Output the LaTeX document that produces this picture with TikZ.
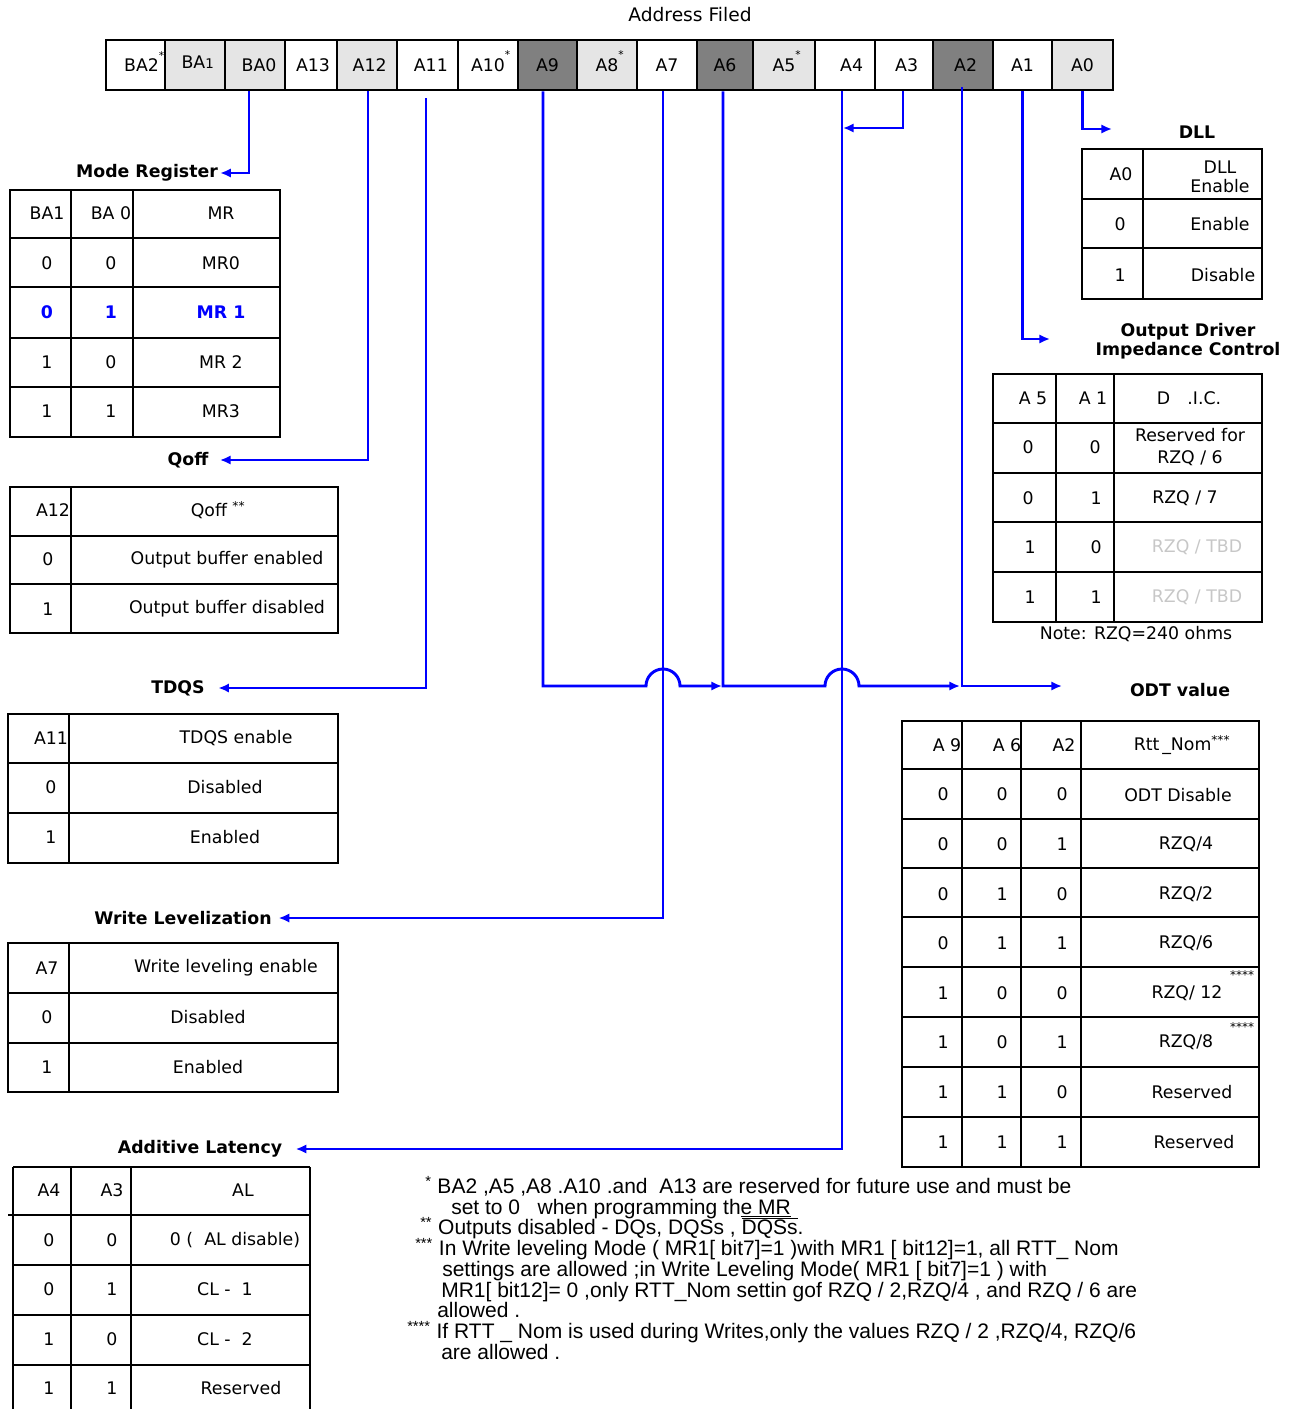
\documentclass[tikz,border=0pt]{standalone}
\usepackage{fontspec}
\setmainfont{DejaVu Sans}
\newfontfamily\notefont{Liberation Sans}
\usetikzlibrary{arrows.meta}
\definecolor{lite}{gray}{0.9}
\definecolor{dark}{gray}{0.5}
\definecolor{faint}{gray}{0.78}
\definecolor{busblue}{rgb}{0,0,1}
\newcommand\rsv{\rlap{\smash{\raisebox{1.3ex}{\fontsize{8}{8}\selectfont *}}}}

\begin{document}
\begin{tikzpicture}[x=0.75pt, y=-0.75pt,
    font=\fontsize{13}{15.6}\selectfont,
    cell/.style={draw, line width=2pt, inner sep=0pt, minimum height=37.5pt},
    tbl/.style={line width=2pt},
    ttl/.style={font=\fontsize{13}{15.6}\selectfont\bfseries, inner sep=1pt},
    bus/.style={draw=busblue, line width=2.2pt, -{Latex[length=8pt,width=7pt]}},
    hl/.style={text=busblue, font=\fontsize{13}{15.6}\selectfont\bfseries},
    rw/.style={},
    greyed/.style={text=faint},
    small/.style={font=\fontsize{9}{9}\selectfont, inner sep=0pt},
    note/.style={font={\notefont\fontsize{15.75}{15.56}\selectfont\lineskiplimit=-20pt}, align=left, anchor=north west, inner sep=0pt}]
\useasboundingbox (0,0) rectangle (1293,1409);
\clip (0,0) rectangle (1293,1409);

\node[font=\fontsize{14}{16}\selectfont] (addr) at (690,15) {Address Filed};
\foreach \n/\t/\xa/\xb/\f in {
    BA2/\hspace{9pt}BA2\rsv/106/165/white,
    BA1/{\hspace{4pt}\raisebox{4pt}{BA\fontsize{10}{10}\selectfont 1}}/165/225/lite,
    BA0/\hspace{6pt}BA0/225/285/lite, A13/\hspace{3pt}A13/285/337/white, A12/\hspace{4pt}A12/337/397/lite,
    A11/\hspace{5pt}A11/397/458/white, A10/A10\rsv/458/518/white, A9/A9/518/577/dark,
    A8/A8\rsv/577/637/lite, A7/A7/637/697/white, A6/A6/697/753/dark,
    A5/A5\rsv/753/815/lite, A4/\hspace{10pt}A4/815/875/white, A3/\hspace{4pt}A3/875/933/white,
    A2/\hspace{4pt}A2/933/993/dark, A1/A1/993/1052/white, A0/A0/1052/1113/lite}
  \node[cell, fill=\f, minimum width={(\xb-\xa)*0.75pt}] (\n) at ({(\xa+\xb)/2},65) {\t};

\node[ttl] (mr) at (147,173) {Mode Register};
\node[ttl] (qoff) at (188,460) {Qoff};
\node[ttl] (tdqs) at (178,688) {TDQS};
\node[ttl] (wl) at (183,918) {Write Levelization};
\node[ttl] (al) at (200,1149) {Additive Latency};
\node[ttl] (dll) at (1197,132) {DLL};
\node[ttl, align=center, font=\fontsize{13}{14.3}\selectfont\bfseries] (odic) at (1188,341) {Output Driver\\Impedance Control};
\node[ttl] (odt) at (1180,690) {ODT value};
\node (rzq) at (1136,634) {Note: RZQ=240 ohms};

\foreach \a/\b/\c/\s [count=\r] in {BA1/BA 0/MR/rw, 0/0/MR0/rw, 0/1/MR 1/hl, 1/0/MR 2/rw, 1/1/MR3/rw} {
  \node[\s] (mr-\r-a) at (47,{164+49.5*\r}) {\a};
  \node[\s] (mr-\r-b) at (111,{164+49.5*\r}) {\b};
  \node[\s] (mr-\r-c) at (221,{164+49.5*\r}) {\c};
}
\draw[tbl] (10,190) rectangle (280,437);
\foreach \x in {71,133} \draw[tbl] (\x,190) -- (\x,437);
\foreach \y in {238,287,338,387} \draw[tbl] (10,\y) -- (280,\y);

\node (qf-h-a) at (53,510) {A12};
\node (qf-h-b) at (218,510) {Qoff \textsuperscript{**}};
\foreach \a/\b [count=\r] in {0/Output buffer enabled, 1/Output buffer disabled} {
  \node (qf-\r-a) at (48,{510+49.5*\r}) {\a};
  \node (qf-\r-b) at (227,{510+49.5*\r}) {\b};
}
\draw[tbl] (10,487) rectangle (338,633);
\draw[tbl] (71,487) -- (71,633);
\foreach \y in {536,584} \draw[tbl] (10,\y) -- (338,\y);

\node (td-h-a) at (51,738) {A11};
\node (td-h-b) at (236,738) {TDQS enable};
\foreach \a/\b [count=\r] in {0/Disabled, 1/Enabled} {
  \node (td-\r-a) at (51,{738+49.5*\r}) {\a};
  \node (td-\r-b) at (225,{738+49.5*\r}) {\b};
}
\draw[tbl] (8,714) rectangle (338,863);
\draw[tbl] (69,714) -- (69,863);
\foreach \y in {763,813} \draw[tbl] (8,\y) -- (338,\y);

\node (wl-h-a) at (47,968) {A7};
\node (wl-h-b) at (226,968) {Write leveling enable};
\foreach \a/\b [count=\r] in {0/Disabled, 1/Enabled} {
  \node (wl-\r-a) at (47,{968+49.5*\r}) {\a};
  \node (wl-\r-b) at (208,{968+49.5*\r}) {\b};
}
\draw[tbl] (8,943) rectangle (338,1092);
\draw[tbl] (69,943) -- (69,1092);
\foreach \y in {993,1043} \draw[tbl] (8,\y) -- (338,\y);

\foreach \a/\b/\c/\xc [count=\r] in {A4/A3/AL/243, 0/0/0 (\ \ AL disable)/235, 0/1/CL -\ \ 1/225, 1/0/CL -\ \ 2/225, 1/1/Reserved/241} {
  \node (al-\r-a) at (49,{1141+49.5*\r}) {\a};
  \node (al-\r-b) at (112,{1141+49.5*\r}) {\b};
  \node (al-\r-c) at (\xc,{1141+49.5*\r}) {\c};
}
\draw[tbl] (13,1167) -- (310,1167);
\foreach \x in {13,71,131,310} \draw[tbl] (\x,1167) -- (\x,1420);
\draw[tbl] (8,1215) -- (310,1215);
\foreach \y in {1265,1315,1365} \draw[tbl] (13,\y) -- (310,\y);

\node (dl-h-a) at (1121,174) {A0};
\node[align=center, font=\fontsize{13}{14}\selectfont] (dl-h-b) at (1220,177) {DLL\\Enable};
\node (dl-1-a) at (1120,224) {0};
\node (dl-1-b) at (1220,224) {Enable};
\node (dl-2-a) at (1120,275) {1};
\node (dl-2-b) at (1223,275) {Disable};
\draw[tbl] (1082,149) rectangle (1262,299);
\draw[tbl] (1143,149) -- (1143,299);
\foreach \y in {199,248} \draw[tbl] (1082,\y) -- (1262,\y);

\node (oc-h-a) at (1033,398) {A 5};
\node (oc-h-b) at (1093,398) {A 1};
\node (oc-h-c) at (1189,398) {D\hspace{1em}.I.C.};
\node (oc-1-a) at (1028,447) {0};
\node (oc-1-b) at (1095,447) {0};
\node[align=center, font=\fontsize{13}{17}\selectfont] (oc-1-c) at (1190,447) {Reserved for\\RZQ / 6};
\node (oc-2-a) at (1028,498) {0};
\node (oc-2-b) at (1096,498) {1};
\node (oc-2-c) at (1185,498) {RZQ / 7};
\node (oc-3-a) at (1030,547) {1};
\node (oc-3-b) at (1096,547) {0};
\node[greyed] (oc-3-c) at (1197,547) {RZQ / TBD};
\node (oc-4-a) at (1030,597) {1};
\node (oc-4-b) at (1096,597) {1};
\node[greyed] (oc-4-c) at (1197,597) {RZQ / TBD};
\draw[tbl] (993,374) rectangle (1262,622);
\foreach \x in {1056,1114} \draw[tbl] (\x,374) -- (\x,622);
\foreach \y in {423,473,522,572} \draw[tbl] (993,\y) -- (1262,\y);

\node (ot-h-a) at (947,745) {A 9};
\node (ot-h-b) at (1007,745) {A 6};
\node (ot-h-c) at (1064,745) {A2};
\node (ot-h-d) at (1182,745) {Rtt\,\_Nom\textsuperscript{***}};
\foreach \a/\b/\c/\d/\xd [count=\r] in {0/0/0/ODT Disable/1178, 0/0/1/{RZQ/4}/1186,
    0/1/0/{RZQ/2}/1186, 0/1/1/{RZQ/6}/1186, 1/0/0/{RZQ/ 12}/1187, 1/0/1/{RZQ/8}/1186,
    1/1/0/Reserved/1192, 1/1/1/Reserved/1194} {
  \node (ot-\r-a) at (943,{745+49.6*\r}) {\a};
  \node (ot-\r-b) at (1002,{745+49.6*\r}) {\b};
  \node (ot-\r-c) at (1062,{745+49.6*\r}) {\c};
  \node (ot-\r-d) at (\xd,{745+49.6*\r}) {\d};
}
\node[small] (ot-s5) at (1242,975) {****};
\node[small] (ot-s6) at (1242,1027) {****};
\draw[tbl] (902,721) rectangle (1259,1167);
\foreach \x in {962,1021,1081} \draw[tbl] (\x,721) -- (\x,1167);
\foreach \y in {769,819,868,917,967,1017,1067,1117} \draw[tbl] (902,\y) -- (1259,\y);

\coordinate (j3) at (843,128);
\coordinate (j0) at (1112,129);
\coordinate (j1) at (1050,339);
\coordinate (h7) at (646,686);
\coordinate (j6) at (722,686);
\coordinate (h4) at (825,686);
\coordinate (j2) at (960,686);
\coordinate (jodt) at (1062,686);
\draw[bus] (BA0.south) ++(-6,0) |- ([xshift=0.5pt]mr.east);
\draw[bus] (A12.south) ++(1,0) |- ([xshift=7.5pt]qoff.east);
\draw[bus] (A11.south) ++(-1.5,7) |- ([xshift=9pt]tdqs.east);
\draw[bus] (A7.south) ++(-4,0) |- ([xshift=4pt]wl.east);
\draw[bus] (A4.south) ++(-3,0) |- ([xshift=9pt]al.east);
\draw[bus] (A3.south) ++(-1,0) |- (j3);
\draw[bus] (A0.south) |- (j0);
\draw[bus] (A1.south) |- (j1);
\draw[bus] (A2.south) ++(-1,-4) |- (jodt);
\draw[bus] (A9.south) ++(-4.5,0) |- (h7) arc[start angle=180, end angle=0, radius=12.75pt] -- (j6);
\draw[bus] (A6.south) ++(-2,0) |- (h4) arc[start angle=180, end angle=0, radius=12.75pt] -- (j2);

\node[note] (notes) at (407,1173) {%
  \hspace*{13.5pt}\rule{0pt}{15pt}\textsuperscript{*} BA2 ,A5 ,A8 .A10 .and\ \ A13 are reserved for future use and must be\\
  \hspace*{33pt}set to 0\ \ \ when programming th\underline{e MR}\\
  \hspace*{9.75pt}\textsuperscript{**} Outputs disabled - DQs, DQSs , $\overline{\mbox{DQSs}}$.\\
  \hspace*{6pt}\textsuperscript{***} In Write leveling Mode ( MR1[ bit7]=1 )with MR1 [ bit12]=1, all RTT\_ Nom\\
  \hspace*{26.25pt}settings are allowed ;in Write Leveling Mode( MR1 [ bit7]=1 ) with\\
  \hspace*{25.5pt}MR1[ bit12]= 0 ,only RTT\_Nom settin gof RZQ / 2,RZQ/4 , and RZQ / 6 are\\
  \hspace*{22.5pt}allowed .\\
  \textsuperscript{****} If RTT \_ Nom is used during Writes,only the values RZQ / 2 ,RZQ/4, RZQ/6\\
  \hspace*{25.5pt}are allowed .};
\end{tikzpicture}
\end{document}
